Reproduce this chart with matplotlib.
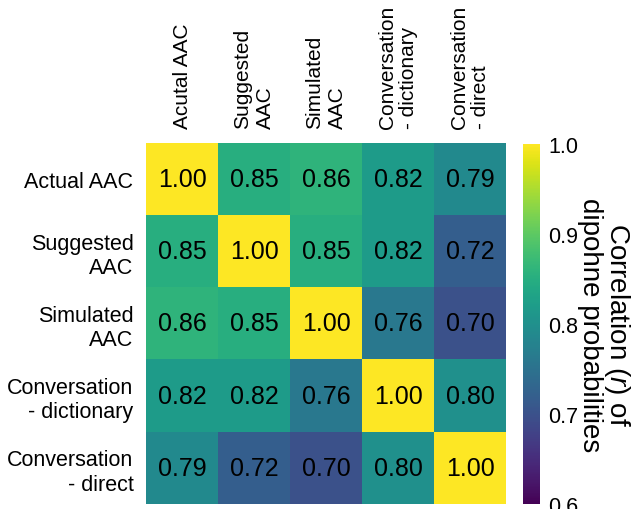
import numpy as np
import matplotlib.pyplot as plt

plt.rcParams['font.family'] = ['Liberation Sans', 'DejaVu Sans']
plt.rcParams['mathtext.fontset'] = 'custom'
plt.rcParams['mathtext.rm'] = 'Liberation Sans'
plt.rcParams['mathtext.it'] = 'Liberation Sans:italic'

row_labels = ["Actual AAC", "Suggested\nAAC", "Simulated\nAAC",
              "Conversation\n- dictionary", "Conversation\n- direct"]
col_labels = ["Acutal AAC", "Suggested\nAAC", "Simulated\nAAC",
              "Conversation\n- dictionary", "Conversation\n- direct"]

# pairwise correlation of diphone probabilities
corr = np.array([
    [1.00, 0.85, 0.86, 0.82, 0.79],
    [0.85, 1.00, 0.85, 0.82, 0.72],
    [0.86, 0.85, 1.00, 0.76, 0.70],
    [0.82, 0.82, 0.76, 1.00, 0.80],
    [0.79, 0.72, 0.70, 0.80, 1.00],
])
cbar_ticks = [0.6, 0.7, 0.8, 0.9, 1.0]

W, H = 633, 510
fig = plt.figure(figsize=(W / 100, H / 100), dpi=100)
ax = fig.add_axes([146 / W, 1 - 505 / H, 360 / W, 361 / H])
cax = fig.add_axes([523 / W, 1 - 505 / H, 17 / W, 360 / H])

im = ax.imshow(corr, cmap='viridis', vmin=0.6, vmax=1.0, aspect='auto')

for i in range(corr.shape[0]):
    for j in range(corr.shape[1]):
        ax.text(j, i, f"{corr[i, j]:.2f}", ha='center', va='center',
                fontsize=18, color='black')

ax.xaxis.tick_top()
ax.set_xticks(range(len(col_labels)), col_labels, rotation=90, fontsize=15)
ax.set_yticks(range(len(row_labels)), row_labels, fontsize=15.5)
for lab in ax.get_xticklabels():
    lab.set_multialignment('left')
for lab in ax.get_yticklabels():
    lab.set_multialignment('right')
ax.tick_params(axis='x', length=0, pad=11)
ax.tick_params(axis='y', length=0, pad=9)
for s in ax.spines.values():
    s.set_visible(False)

cb = fig.colorbar(im, cax=cax, ticks=cbar_ticks)
cb.outline.set_visible(False)
cax.tick_params(length=0, pad=6, labelsize=15.5)
cb.set_ticklabels([f"{t:.1f}" for t in cbar_ticks])
cb.set_label("Correlation ($\\it{r}$) of\ndipohne probabilities",
             rotation=270, va='bottom', fontsize=20, labelpad=-1,
             linespacing=0.95)

fig.savefig("out.png", dpi=100)
